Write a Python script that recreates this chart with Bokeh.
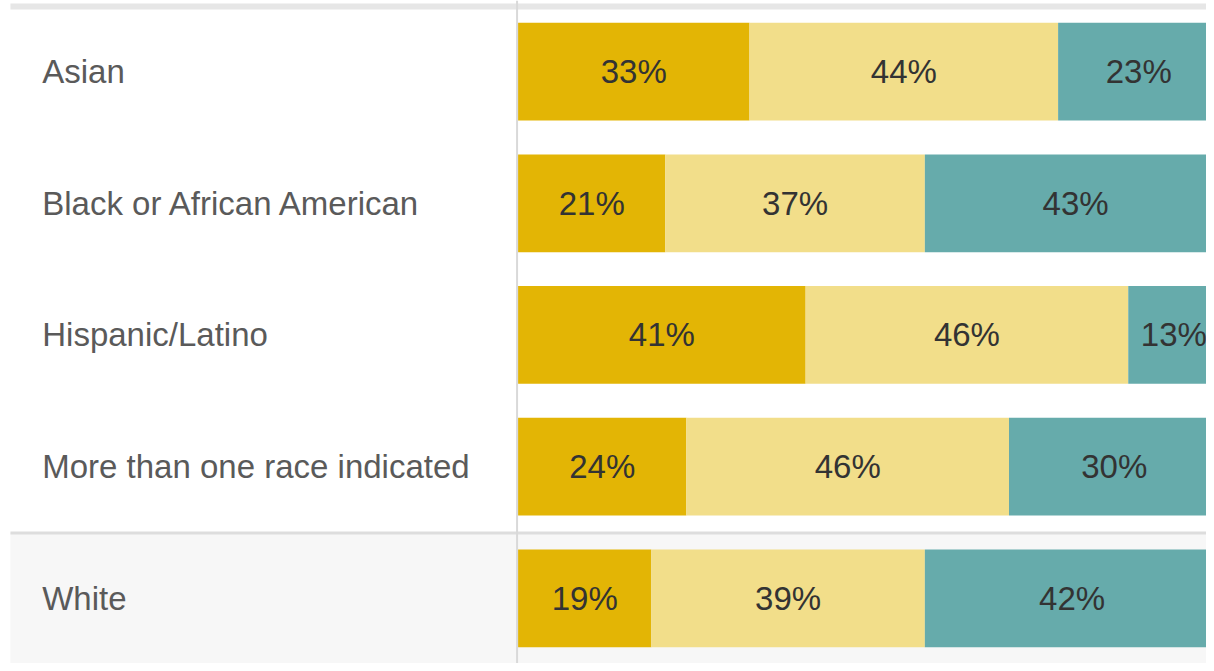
from bokeh.plotting import figure
from bokeh.models import ColumnDataSource, Range1d, Span
from bokeh.core.properties import value
from bokeh.embed import file_html
from bokeh.resources import INLINE

categories = ["Asian", "Black or African American", "Hispanic/Latino",
              "More than one race indicated", "White"]
seg1 = [33, 21, 41, 24, 19]
seg2 = [44, 37, 46, 46, 39]
seg3 = [23, 43, 13, 30, 42]
colors = ["#E3B505", "#F2DE8A", "#66ABAB"]

W, H = 1206, 663
# layout expressed in reference-picture pixels (1214 x 671)
REF_W, REF_H = 1214.0, 671.0
PX_PER_PCT = 7.06
x0_ref = 521.0
pitch = 133.25
x_start = (0 - x0_ref) / PX_PER_PCT
x_end = (REF_W - x0_ref) / PX_PER_PCT
y_top = -72.0 / pitch
y_bot = y_top + REF_H / pitch

def rx(px):
    return (px - x0_ref) / PX_PER_PCT

def ry(py):
    return y_top + py / pitch

p = figure(width=W, height=H, output_backend="svg", toolbar_location=None,
           x_range=Range1d(x_start, x_end), y_range=Range1d(y_bot, y_top),
           min_border=0)
p.axis.visible = False
p.grid.visible = False
p.outline_line_color = None
p.background_fill_color = "white"
p.border_fill_color = "white"

# light band behind the last row
p.quad(left=[rx(10)], right=[rx(1230)], top=[ry(539)], bottom=[ry(680)],
       fill_color="#F7F7F7", line_color=None)
p.line(x=[rx(10), rx(1230)], y=[ry(539)] * 2, line_color="#DDDDDD", line_width=3)
# top rule
p.quad(left=[rx(10)], right=[rx(1230)], top=[ry(3)], bottom=[ry(9)],
       fill_color="#E6E6E6", line_color=None)

ys = list(range(len(categories)))
lefts = [[0] * 5, seg1, [a + b for a, b in zip(seg1, seg2)]]
vals = [seg1, seg2, seg3]
for k in range(3):
    l = lefts[k]
    r = [a + b for a, b in zip(l, vals[k])]
    src = ColumnDataSource(dict(y=ys, left=l, right=r,
                                mid=[(a + b) / 2 for a, b in zip(l, r)],
                                lab=[f"{v}%" for v in vals[k]]))
    p.hbar(y="y", left="left", right="right", height=99 / pitch, source=src,
           fill_color=colors[k], line_color=None)
    p.text(x="mid", y="y", text="lab", source=src, text_align="center",
           text_baseline="middle", text_font=value("Liberation Sans"),
           text_font_size="33px", text_color="#333333")

p.add_layout(Span(location=rx(520), dimension="height", line_color="#D9D9D9", line_width=2))

lsrc = ColumnDataSource(dict(x=[rx(42)] * len(categories), y=ys, t=categories))
p.text(x="x", y="y", text="t", source=lsrc, text_align="left", text_baseline="middle",
       text_font=value("Liberation Sans"), text_font_size="33px", text_color="#5A5A5A")

open("out.html", "w").write(file_html(p, INLINE))
